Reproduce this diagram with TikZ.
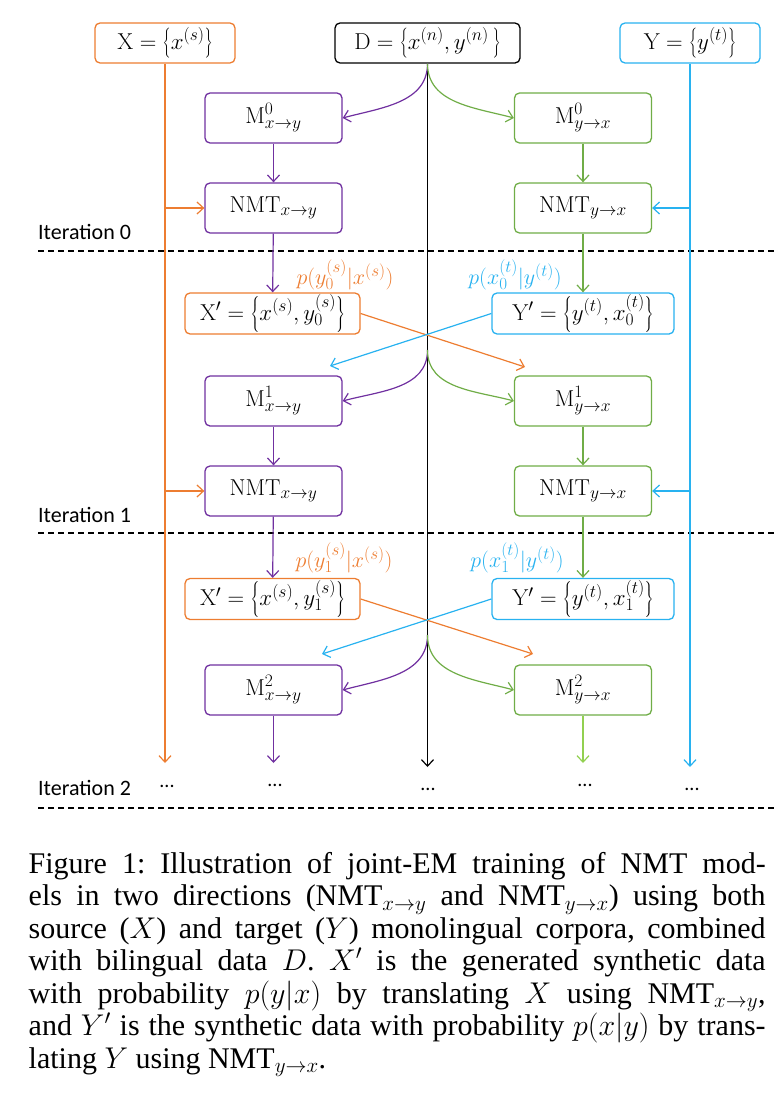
\RequirePackage{fix-cm}
\documentclass[tikz,border=0pt]{standalone}
\usepackage{fontspec}
\newfontfamily\calfont{Carlito}
\newfontfamily\capfont{Liberation Serif}
\usetikzlibrary{arrows.meta}
\DeclareMathSizes{23}{23}{17.5}{13}
\DeclareMathSizes{22}{22}{17}{13}
\definecolor{cOrange}{RGB}{237,125,49}
\definecolor{cPurple}{RGB}{112,48,160}
\definecolor{cGreen}{RGB}{112,173,71}
\definecolor{cLime}{RGB}{146,208,80}
\definecolor{cBlue}{RGB}{40,178,240}
\begin{document}
\frenchspacing
\begin{tikzpicture}[x=1pt,y=-1pt,
  >={Straight Barb[length=6.5pt,width=12pt]},
  box/.style={draw, rounded corners=5pt, line width=1.3pt, fill=white, inner sep=0pt, font=\fontsize{23}{27}\selectfont},
  topbox/.style={box, minimum height=40pt},
  mbox/.style={box, minimum width=137pt, minimum height=50pt},
  xbox/.style={box, minimum height=41pt},
  conn/.style={line width=1.2pt},
  sep/.style={dash pattern=on 6pt off 4pt, line width=1.2pt},
  itlab/.style={anchor=west, font=\calfont\fontsize{22}{25}\selectfont, inner sep=0pt},
  dotlab/.style={font=\calfont\fontsize{20}{24}\selectfont, inner sep=0pt},
  plab/.style={font=\fontsize{22}{25}\selectfont, inner sep=0pt}]
\useasboundingbox (0,0) rectangle (776,1100);

% top boxes
\node[topbox, draw=cOrange, minimum width=140pt] (X) at (165,43) {$\mathrm{X}=\left\{x^{(s)}\right\}$};
\node[topbox, draw=black, minimum width=185pt] (D) at (427.5,43) {$\mathrm{D}=\left\{x^{(n)},y^{(n)}\,\right\}$};
\node[topbox, draw=cBlue, minimum width=140pt] (Y) at (690,43) {$\mathrm{Y}=\left\{y^{(t)}\right\}$};

% iteration 0
\node[mbox, draw=cPurple] (M0a) at (273.5,118) {$\mathrm{M}^{0}_{x\to y}$};
\node[mbox, draw=cGreen] (M0b) at (583,118) {$\mathrm{M}^{0}_{y\to x}$};
\node[mbox, draw=cPurple] (N0a) at (273.5,208) {$\mathrm{NMT}_{x\to y}$};
\node[mbox, draw=cGreen] (N0b) at (583,208) {$\mathrm{NMT}_{y\to x}$};
\node[itlab] (it0) at (38,232) {Iteration 0};

\node[plab, text=cOrange] (p0a) at (345,275) {$p(y_0^{(s)}|x^{(s)})$};
\node[plab, text=cBlue] (p0b) at (515,275) {$p(x_0^{(t)}|y^{(t)})$};
\node[xbox, draw=cOrange, minimum width=175pt] (Xp0) at (272.5,313.5) {$\mathrm{X}'=\left\{x^{(s)},y_0^{(s)}\right\}$};
\node[xbox, draw=cBlue, minimum width=182pt] (Yp0) at (583,313.5) {$\mathrm{Y}'=\left\{y^{(t)},x_0^{(t)}\right\}$};

% iteration 1
\node[mbox, draw=cPurple] (M1a) at (273.5,401) {$\mathrm{M}^{1}_{x\to y}$};
\node[mbox, draw=cGreen] (M1b) at (583,401) {$\mathrm{M}^{1}_{y\to x}$};
\node[mbox, draw=cPurple] (N1a) at (273.5,491) {$\mathrm{NMT}_{x\to y}$};
\node[mbox, draw=cGreen] (N1b) at (583,491) {$\mathrm{NMT}_{y\to x}$};
\node[itlab] (it1) at (38,515) {Iteration 1};

\node[plab, text=cOrange] (p1a) at (344,558) {$p(y_1^{(s)}|x^{(s)})$};
\node[plab, text=cBlue] (p1b) at (517,558) {$p(x_1^{(t)}|y^{(t)})$};
\node[xbox, draw=cOrange, minimum width=175pt] (Xp1) at (272.5,599) {$\mathrm{X}'=\left\{x^{(s)},y_1^{(s)}\right\}$};
\node[xbox, draw=cBlue, minimum width=182pt] (Yp1) at (583,599) {$\mathrm{Y}'=\left\{y^{(t)},x_1^{(t)}\right\}$};

% iteration 2
\node[mbox, draw=cPurple] (M2a) at (273.5,690) {$\mathrm{M}^{2}_{x\to y}$};
\node[mbox, draw=cGreen] (M2b) at (583,690) {$\mathrm{M}^{2}_{y\to x}$};
\node[itlab] (it2) at (38,788) {Iteration 2};
\node[dotlab] (d1) at (167,786) {...};
\node[dotlab] (d2) at (275,785) {...};
\node[dotlab] (d3) at (428,789) {...};
\node[dotlab] (d4) at (585,785) {...};
\node[dotlab] (d5) at (692,789) {...};

% coordinates
\coordinate (oEnd) at (165,763);
\coordinate (kEnd) at (427.5,767);
\coordinate (bEnd) at (690,767);
\coordinate (pEnd) at (273.5,763);
\coordinate (gEnd) at (583,763);
\coordinate (ob0) at (165,208);
\coordinate (ob1) at (165,491);
\coordinate (bb0) at (690,208);
\coordinate (bb1) at (690,491);
\coordinate (k1) at (427.5,350);
\coordinate (k2) at (427.5,635);
\coordinate (oc0) at (525,367);
\coordinate (bc0) at (330,366);
\coordinate (oc1) at (533,654);
\coordinate (bc1) at (322,654);
\coordinate (s0l) at (38,251);
\coordinate (s0r) at (776,251);
\coordinate (s1l) at (38,533);
\coordinate (s1r) at (776,533);
\coordinate (s2l) at (38,808);
\coordinate (s2r) at (776,808);

% separators
\draw[sep] (s0l) -- (s0r);
\draw[sep] (s1l) -- (s1r);
\draw[sep] (s2l) -- (s2r);

% vertical source lines
\draw[conn, cOrange, ->] (X.south) -- (oEnd);
\draw[conn, cBlue, ->] (Y.south) -- (bEnd);
\draw[conn, black, ->] (D.south) -- (kEnd);
\draw[conn, cOrange, ->] (ob0) -- (N0a.west);
\draw[conn, cOrange, ->] (ob1) -- (N1a.west);
\draw[conn, cBlue, ->] (bb0) -- (N0b.east);
\draw[conn, cBlue, ->] (bb1) -- (N1b.east);

% curves from D line
\draw[conn, cPurple, ->] (D.south) to[out=-90, in=15] (M0a.east);
\draw[conn, cGreen, ->] (D.south) to[out=-90, in=165] (M0b.west);
\draw[conn, cPurple, ->] (k1) to[out=-90, in=15] (M1a.east);
\draw[conn, cGreen, ->] (k1) to[out=-90, in=165] (M1b.west);
\draw[conn, cPurple, ->] (k2) to[out=-90, in=15] (M2a.east);
\draw[conn, cGreen, ->] (k2) to[out=-90, in=165] (M2b.west);

% model chains
\draw[conn, cPurple, ->] (M0a) -- (N0a);
\draw[conn, cGreen, ->] (M0b) -- (N0b);
\draw[conn, cPurple, ->] (N0a) -- (Xp0);
\draw[conn, cGreen, ->] (N0b) -- (Yp0);
\draw[conn, cPurple, ->] (M1a) -- (N1a);
\draw[conn, cGreen, ->] (M1b) -- (N1b);
\draw[conn, cPurple, ->] (N1a) -- (Xp1);
\draw[conn, cGreen, ->] (N1b) -- (Yp1);
\draw[conn, cPurple, ->] (M2a.south) -- (pEnd);
\draw[conn, cLime, ->] (M2b.south) -- (gEnd);

% crossing synthetic data
\draw[conn, cOrange, ->] (Xp0.east) -- (oc0);
\draw[conn, cBlue, ->] (Yp0.west) -- (bc0);
\draw[conn, cOrange, ->] (Xp1.east) -- (oc1);
\draw[conn, cBlue, ->] (Yp1.west) -- (bc1);

% caption
\node[anchor=north west, text width=737pt, align=justify, inner sep=0pt,
  font=\capfont\fontsize{30}{32.5}\selectfont] (cap) at (28.5,852) {%
Figure 1: Illustration of joint-EM training of NMT mod-\linebreak
els in two directions (NMT$_{x\rightarrow y}$ and NMT$_{y\rightarrow x}$) using both\linebreak
source ($X$) and target ($Y$) monolingual corpora, combined\linebreak
with bilingual data $D$. $X'$ is the generated synthetic data\linebreak
with probability $p(y|x)$ by translating $X$ using NMT$_{x\rightarrow y}$,\linebreak
and $Y'$ is the synthetic data with probability $p(x|y)$ by trans-\linebreak
lating $Y$ using NMT$_{y\rightarrow x}$.};
\end{tikzpicture}
\end{document}
